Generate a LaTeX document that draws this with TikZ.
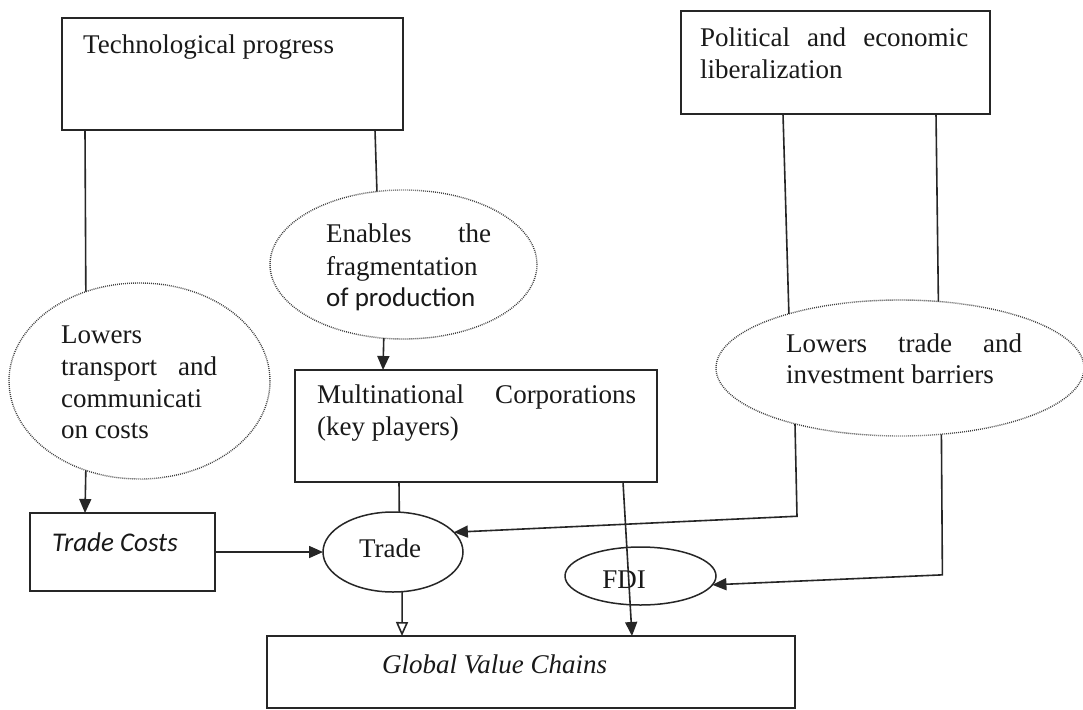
\documentclass[tikz,border=0pt]{standalone}
\usepackage{fontspec}
\setmainfont{Liberation Serif}
\newfontfamily\calfont{Carlito}
\usetikzlibrary{shapes.geometric,arrows.meta,calc}
\begin{document}
\begin{tikzpicture}[x=1pt,y=-1pt,
  box/.style={draw=black!85, line width=1.6pt, rectangle, inner sep=0pt, outer sep=0pt},
  dotell/.style={ellipse, draw=black!75, line width=1.4pt, dash pattern=on 0.9pt off 1.1pt, inner sep=0pt, outer sep=0pt},
  solell/.style={ellipse, draw=black!85, line width=1.5pt, inner sep=0pt, outer sep=0pt},
  txt/.style={anchor=base west, inner sep=0pt, text=black!90, font=\fontsize{27}{32}\selectfont},
  conn/.style={draw=black!85, line width=1.6pt},
  arr/.style={conn, -{Triangle[length=14pt,width=12pt]}},
  oarr/.style={conn, -{Triangle[open,length=14pt,width=12pt]}}
]
\fill[white] (0,0) rectangle (1083,709);
\useasboundingbox (0,0) rectangle (1083,709);

% shapes
\node[box, minimum width=341pt, minimum height=112pt] (tech) at (232.5,74) {};
\node[box, minimum width=309pt, minimum height=103pt] (pol) at (835.5,62.5) {};
\node[dotell, minimum width=267pt, minimum height=149pt] (enab) at (403.5,264.5) {};
\node[dotell, minimum width=261pt, minimum height=196pt] (lowT) at (139.5,381) {};
\node[dotell, minimum width=368pt, minimum height=136pt] (lowB) at (900,368) {};
\node[box, minimum width=362pt, minimum height=112pt] (mnc) at (476,426) {};
\node[box, minimum width=185pt, minimum height=78pt] (tc) at (122.5,552) {};
\node[solell, minimum width=140pt, minimum height=80pt] (trade) at (393,552) {};
\node[solell, minimum width=151pt, minimum height=58pt] (fdi) at (640.5,576) {};
\node[box, minimum width=528pt, minimum height=72pt] (gvc) at (531,672) {};

% texts
\node[txt] (techT) at (83,53) {Technological progress};
\node[txt] (polT1) at (700,47) {\makebox[268pt][s]{Political and economic}};
\node[txt] (polT2) at (700,78) {liberalization};
\node[txt] (enT1) at (326,242) {\makebox[165pt][s]{Enables the}};
\node[txt] (enT2) at (326,275) {fragmentation};
\node[txt] (enT3) at (326,306) {\calfont of production};
\node[txt] (ltT1) at (61,343) {Lowers};
\node[txt] (ltT2) at (61,375) {\makebox[156pt][s]{transport and}};
\node[txt] (ltT3) at (61,407) {communicati};
\node[txt] (ltT4) at (61,438) {on costs};
\node[txt] (lbT1) at (786,352) {\makebox[236pt][s]{Lowers trade and}};
\node[txt] (lbT2) at (786,383) {investment barriers};
\node[txt] (mncT1) at (317,403) {\makebox[319pt][s]{Multinational Corporations}};
\node[txt] (mncT2) at (317,435) {(key players)};
\node[txt] (tcT) at (52,551) {\calfont\itshape Trade Costs};
\node[txt, anchor=base] (trT) at (390,557) {Trade};
\node[txt, anchor=base] (fdiT) at (624,588) {FDI};
\node[txt] (gvcT) at (382,673) {\itshape Global Value Chains};

% connectors
\draw[conn] (tech.south west) ++(23,0) -- (lowT.121.5);
\draw[conn] (tech.south east) ++(-28,0) -- (enab.110);
\draw[arr] (enab.-105.6) -- ($(mnc.north west)+(88,0)$);
\draw[arr] (lowT.-121.5) -- ($(tc.north west)+(55,0)$);
\draw[arr] (tc.east) -- (tc.east -| trade.west);
\draw[conn] (mnc.south west) ++(104,0) -- (trade.81.4);
\draw[oarr] (trade.-77.2) -- ($(gvc.north west)+(135,0)$);
\draw[conn] (pol.south west) ++(102,0) -- (lowB.154);
\draw[conn] (pol.south east) ++(-54,0) -- (lowB.60.3);
\draw[arr] (lowB.-152.3) -- ++(2,92.4) -- (trade.18);
\draw[arr] (lowB.-58.9) -- ++(1,140.6) -- (fdi.-7);
\draw[arr] (mnc.south east) ++(-34,0) -- ($(gvc.north west)+(365,0)$);
\end{tikzpicture}
\end{document}
